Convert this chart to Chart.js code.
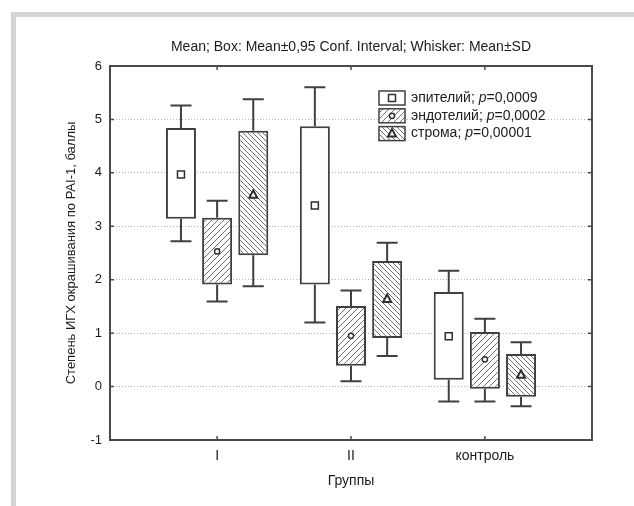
<!DOCTYPE html>
<html>
<head>
<meta charset="utf-8">
<style>
  html, body { margin: 0; padding: 0; background: #fff; }
  #wrap { position: relative; width: 634px; height: 506px; overflow: hidden; }
  #frame { position: absolute; left: 11px; top: 12px; right: 0; bottom: 0;
           border-left: 5px solid #d5d5d5; border-top: 5px solid #d5d5d5; }
  canvas { position: absolute; left: 0; top: 0; }
</style>
<script src="https://cdn.jsdelivr.net/npm/chart.js@4.4.0/dist/chart.umd.min.js"></script>
</head>
<body>
<div id="wrap">
  <div id="frame"></div>
  <canvas id="chart" width="634" height="506"></canvas>
</div>
<script>
// groups on the x axis and the three tissue series
const groups = ['I', 'II', 'контроль'];
const seriesNames = ['эпителий', 'эндотелий', 'строма'];
const pValues = ['0,0009', '0,0002', '0,00001'];
const yTicks = [-1, 0, 1, 2, 3, 4, 5, 6];

// эпителий
const meanEpi = [3.97, 3.39, 0.94];
const ciLowEpi = [3.14, 1.91, 0.13];
const ciHighEpi = [4.84, 4.87, 1.77];
const sdLowEpi = [2.72, 1.20, -0.28];
const sdHighEpi = [5.26, 5.60, 2.17];

// эндотелий
const meanEndo = [2.53, 0.95, 0.51];
const ciLowEndo = [1.91, 0.39, -0.04];
const ciHighEndo = [3.16, 1.51, 1.02];
const sdLowEndo = [1.59, 0.10, -0.28];
const sdHighEndo = [3.48, 1.80, 1.27];

// строма
const meanStroma = [3.59, 1.64, 0.22];
const ciLowStroma = [2.46, 0.91, -0.19];
const ciHighStroma = [4.79, 2.35, 0.61];
const sdLowStroma = [1.88, 0.57, -0.37];
const sdHighStroma = [5.38, 2.69, 0.83];

const FONT = "'Liberation Sans', Arial, sans-serif";
const INK = '#1c1c1c';
const LINE = '#404040';

// diagonal hatch fill, dir > 0 is '/', dir < 0 is '\'
function hatch(dir, step) {
  const c = document.createElement('canvas');
  c.width = step; c.height = step;
  const g = c.getContext('2d');
  g.fillStyle = '#fff';
  g.fillRect(0, 0, step, step);
  g.strokeStyle = '#707070';
  g.lineWidth = 1;
  g.beginPath();
  if (dir > 0) {
    g.moveTo(-1, step + 1); g.lineTo(step + 1, -1);
    g.moveTo(-1, 1); g.lineTo(1, -1);
    g.moveTo(step - 1, step + 1); g.lineTo(step + 1, step - 1);
  } else {
    g.moveTo(-1, -1); g.lineTo(step + 1, step + 1);
    g.moveTo(step - 1, -1); g.lineTo(step + 1, 1);
    g.moveTo(-1, step - 1); g.lineTo(1, step + 1);
  }
  g.stroke();
  return g.createPattern(c, 'repeat');
}

const fills = ['#ffffff', hatch(1, 6), hatch(-1, 5)];
const markers = ['square', 'circle', 'triangle'];

function boxes(lo, hi) {
  return lo.map((v, i) => ({ x: i, y: [v, hi[i]] }));
}

function drawMarker(ctx, kind, x, y) {
  ctx.save();
  ctx.fillStyle = '#fff';
  ctx.strokeStyle = '#303030';
  ctx.lineWidth = 1.5;
  ctx.beginPath();
  if (kind === 'square') {
    ctx.rect(x - 3.5, y - 3.5, 7, 7);
  } else if (kind === 'circle') {
    ctx.arc(x, y, 2.6, 0, Math.PI * 2);
  } else {
    ctx.lineWidth = 2;
    ctx.moveTo(x, y - 4.5);
    ctx.lineTo(x + 4, y + 3);
    ctx.lineTo(x - 4, y + 3);
    ctx.closePath();
  }
  ctx.fill();
  ctx.stroke();
  ctx.restore();
}

// whiskers (mean ± SD) and mean markers on top of the boxes
const boxExtras = {
  id: 'boxExtras',
  afterDatasetsDraw(chart) {
    const ctx = chart.ctx;
    const y = chart.scales.y;
    chart.data.datasets.forEach((ds, i) => {
      const meta = chart.getDatasetMeta(i);
      meta.data.forEach((bar, j) => {
        const cap = bar.width * 0.35;
        const hi = y.getPixelForValue(ds.sdHigh[j]);
        const lo = y.getPixelForValue(ds.sdLow[j]);
        const boxTop = y.getPixelForValue(ds.data[j].y[1]);
        const boxBot = y.getPixelForValue(ds.data[j].y[0]);
        ctx.save();
        ctx.strokeStyle = LINE;
        ctx.lineWidth = 2;
        ctx.beginPath();
        ctx.moveTo(bar.x, boxTop); ctx.lineTo(bar.x, hi);
        ctx.moveTo(bar.x - cap, hi); ctx.lineTo(bar.x + cap, hi);
        ctx.moveTo(bar.x, boxBot); ctx.lineTo(bar.x, lo);
        ctx.moveTo(bar.x - cap, lo); ctx.lineTo(bar.x + cap, lo);
        ctx.stroke();
        ctx.restore();
        drawMarker(ctx, ds.marker, bar.x, y.getPixelForValue(ds.mean[j]));
      });
    });
  }
};

// closed frame with inward ticks, plus the legend
const frameAndLegend = {
  id: 'frameAndLegend',
  afterDraw(chart) {
    const ctx = chart.ctx;
    const a = chart.chartArea;
    const x = chart.scales.x, y = chart.scales.y;
    ctx.save();
    ctx.strokeStyle = '#4a4a4a';
    ctx.lineWidth = 2;
    ctx.strokeRect(a.left, a.top, a.right - a.left, a.bottom - a.top);
    ctx.lineWidth = 1.5;
    ctx.beginPath();
    y.ticks.forEach(t => {
      const py = y.getPixelForValue(t.value);
      ctx.moveTo(a.left, py); ctx.lineTo(a.left + 4, py);
      ctx.moveTo(a.right - 4, py); ctx.lineTo(a.right, py);
    });
    x.ticks.forEach(t => {
      const px = x.getPixelForValue(t.value);
      ctx.moveTo(px, a.bottom); ctx.lineTo(px, a.bottom - 4);
      ctx.moveTo(px, a.top); ctx.lineTo(px, a.top + 4);
    });
    ctx.stroke();

    // legend
    const lx = 379, ly = 91, rowH = 17.8, bw = 26, bh = 14;
    ctx.textBaseline = 'middle';
    seriesNames.forEach((name, i) => {
      const top = ly + i * rowH;
      ctx.fillStyle = fills[i];
      ctx.fillRect(lx, top, bw, bh);
      ctx.strokeStyle = LINE;
      ctx.lineWidth = 1.5;
      ctx.strokeRect(lx, top, bw, bh);
      drawMarker(ctx, markers[i], lx + bw / 2, top + bh / 2);
      let tx = lx + bw + 6;
      const ty = top + bh / 2;
      const parts = [[name + '; ', 'normal'], ['p', 'italic'], ['=' + pValues[i], 'normal']];
      ctx.fillStyle = INK;
      parts.forEach(([txt, style]) => {
        ctx.font = style + ' 14px ' + FONT;
        ctx.fillText(txt, tx, ty);
        tx += ctx.measureText(txt).width;
      });
    });
    ctx.restore();
  }
};

const common = {
  borderColor: LINE,
  borderWidth: 2,
  borderSkipped: false,
  categoryPercentage: 0.81,
  barPercentage: 0.83
};

new Chart(document.getElementById('chart'), {
  type: 'bar',
  data: {
    datasets: [
      Object.assign({ label: seriesNames[0], data: boxes(ciLowEpi, ciHighEpi), backgroundColor: fills[0],
        mean: meanEpi, sdLow: sdLowEpi, sdHigh: sdHighEpi, marker: markers[0] }, common),
      Object.assign({ label: seriesNames[1], data: boxes(ciLowEndo, ciHighEndo), backgroundColor: fills[1],
        mean: meanEndo, sdLow: sdLowEndo, sdHigh: sdHighEndo, marker: markers[1] }, common),
      Object.assign({ label: seriesNames[2], data: boxes(ciLowStroma, ciHighStroma), backgroundColor: fills[2],
        mean: meanStroma, sdLow: sdLowStroma, sdHigh: sdHighStroma, marker: markers[2] }, common)
    ]
  },
  options: {
    responsive: false,
    animation: false,
    devicePixelRatio: 1,
    layout: { padding: { left: 0, right: 42, top: 0, bottom: 0 } },
    plugins: {
      legend: { display: false },
      tooltip: { enabled: false },
      title: {
        display: true,
        fullSize: false,
        text: 'Mean; Box: Mean±0,95 Conf. Interval; Whisker: Mean±SD',
        color: INK,
        font: { family: FONT, size: 14, weight: 'normal' },
        padding: { top: 39, bottom: 10.2 }
      }
    },
    scales: {
      x: {
        type: 'linear',
        offset: false,
        min: -0.8,
        max: 2.8,
        grid: { display: false, drawTicks: false },
        border: { display: false },
        afterBuildTicks(scale) {
          scale.ticks = groups.map((g, i) => ({ value: i }));
        },
        afterFit(scale) { scale.height = 66; },
        ticks: {
          padding: 8,
          color: INK,
          font: { family: FONT, size: 14 },
          callback: v => groups[v]
        },
        title: {
          display: true,
          text: 'Группы',
          color: INK,
          font: { family: FONT, size: 14 },
          padding: { top: 0, bottom: 16 }
        }
      },
      y: {
        min: -1,
        max: 6,
        afterBuildTicks(scale) {
          scale.ticks = yTicks.map(v => ({ value: v }));
        },
        afterFit(scale) { scale.width = 110; },
        grid: {
          drawTicks: false,
          lineWidth: 1,
          color: c => (c.tick && (c.tick.value === -1 || c.tick.value === 6)) ? 'rgba(0,0,0,0)' : '#b4b4b4'
        },
        border: { display: false, dash: [1, 2] },
        ticks: {
          padding: 8,
          color: INK,
          font: { family: FONT, size: 13 }
        },
        title: {
          display: true,
          text: 'Степень ИГХ окрашивания по PAI-1, баллы',
          color: INK,
          font: { family: FONT, size: 13 },
          padding: { top: 64, bottom: 0 }
        }
      }
    }
  },
  plugins: [boxExtras, frameAndLegend]
});
</script>
</body>
</html>
